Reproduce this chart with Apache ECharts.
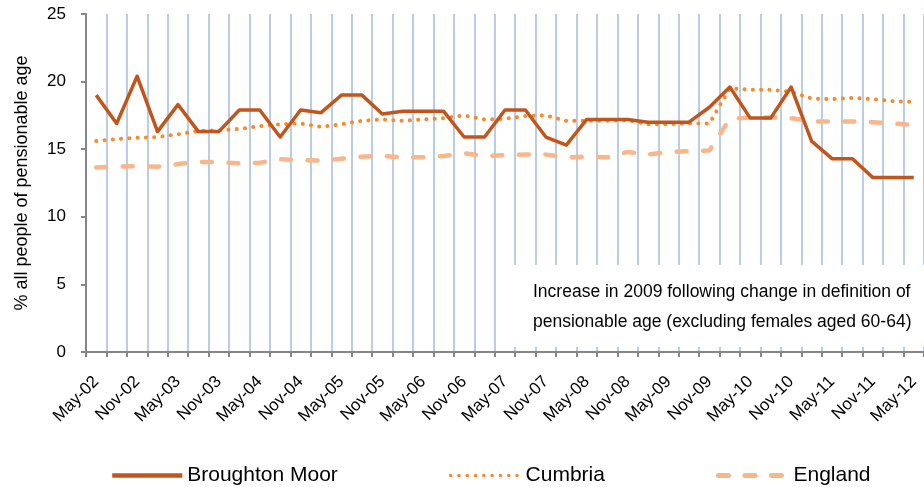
<!DOCTYPE html>
<html>
<head>
<meta charset="utf-8">
<script src="https://cdn.jsdelivr.net/npm/echarts@6/dist/echarts.min.js"></script>
<style>
html,body{margin:0;padding:0;background:#fff;}
#chart{width:924px;height:487px;}
</style>
</head>
<body>
<div id="chart"></div>
<script>
var categories = ['May-02','Aug-02','Nov-02','Feb-03','May-03','Aug-03','Nov-03','Feb-04','May-04','Aug-04',
  'Nov-04','Feb-05','May-05','Aug-05','Nov-05','Feb-06','May-06','Aug-06','Nov-06','Feb-07',
  'May-07','Aug-07','Nov-07','Feb-08','May-08','Aug-08','Nov-08','Feb-09','May-09','Aug-09',
  'Nov-09','Feb-10','May-10','Aug-10','Nov-10','Feb-11','May-11','Aug-11','Nov-11','Feb-12','May-12'];

var broughtonMoor = [19.0, 16.9, 20.4, 16.3, 18.3, 16.3, 16.3, 17.9, 17.9, 15.9,
  17.9, 17.7, 19.0, 19.0, 17.6, 17.8, 17.8, 17.8, 15.9, 15.9,
  17.9, 17.9, 15.9, 15.3, 17.2, 17.2, 17.2, 17.0, 17.0, 17.0,
  18.1, 19.6, 17.3, 17.3, 19.6, 15.6, 14.3, 14.3, 12.9, 12.9, 12.9];

var cumbria = [15.6, 15.75, 15.85, 15.9, 16.1, 16.35, 16.4, 16.5, 16.7, 16.85,
  16.9, 16.65, 16.85, 17.1, 17.2, 17.1, 17.2, 17.3, 17.5, 17.2,
  17.25, 17.45, 17.5, 17.1, 17.1, 17.1, 17.15, 16.85, 16.85, 16.9,
  16.9, 19.5, 19.4, 19.4, 19.25, 18.75, 18.7, 18.8, 18.7, 18.55, 18.5];

var england = [13.65, 13.7, 13.75, 13.7, 13.9, 14.05, 14.05, 13.95, 14.0, 14.25,
  14.2, 14.15, 14.3, 14.45, 14.5, 14.4, 14.4, 14.5, 14.7, 14.5,
  14.55, 14.6, 14.6, 14.4, 14.45, 14.4, 14.8, 14.6, 14.8, 14.85,
  14.9, 17.25, 17.35, 17.35, 17.3, 17.05, 17.05, 17.05, 17.0, 16.9, 16.8];

var seriesNames = ['Broughton Moor', 'Cumbria', 'England'];
var yAxisTitle = '% all people of pensionable age';
var noteLines = ['Increase in 2009 following change in definition of',
  'pensionable age (excluding females aged 60-64)'];

var FONT = '"Liberation Sans", Arial, sans-serif';
var COLORS = ['#c0561b', '#f68a2c', '#f9b68a'];
var chart = echarts.init(document.getElementById('chart'), null, {renderer: 'canvas'});

chart.setOption({
  animation: false,
  backgroundColor: '#ffffff',
  textStyle: {fontFamily: FONT},
  grid: {left: 86, top: 14, width: 840, height: 338, containLabel: false},
  legend: {
    left: 105, top: 460,
    itemWidth: 70, itemHeight: 14, itemGap: 111,
    textStyle: {fontFamily: FONT, fontSize: 21, color: '#000'},
    itemStyle: {opacity: 0},
    data: [
      {name: seriesNames[0], lineStyle: {width: 4.5}},
      {name: seriesNames[1], lineStyle: {width: 3.5}},
      {name: seriesNames[2], lineStyle: {width: 5}}
    ]
  },
  xAxis: {
    type: 'category',
    data: categories,
    boundaryGap: true,
    axisLine: {show: true, lineStyle: {color: '#868686', width: 2}},
    axisTick: {show: true, interval: 0, length: 5, lineStyle: {color: '#868686', width: 2}},
    splitLine: {show: true, interval: 0, lineStyle: {color: '#b9cde5', width: 2}},
    axisLabel: {interval: 1, rotate: 45, margin: 27, fontSize: 17, color: '#000', fontFamily: FONT}
  },
  yAxis: {
    type: 'value',
    min: 0, max: 25, interval: 5,
    name: yAxisTitle,
    nameLocation: 'middle',
    nameGap: 55,
    nameTextStyle: {fontSize: 18, color: '#000', fontFamily: FONT},
    axisLine: {show: true, lineStyle: {color: '#868686', width: 2}},
    axisTick: {show: true, length: 5, lineStyle: {color: '#868686', width: 2}},
    splitLine: {show: false},
    axisLabel: {fontSize: 17, color: '#000', margin: 20, fontFamily: FONT}
  },
  graphic: [
    {type: 'rect', z: 1, shape: {x: 497, y: 265, width: 430, height: 82}, style: {fill: '#ffffff'}, silent: true},
    {type: 'text', z: 3, x: 533, y: 292, style: {text: noteLines[0], font: '17.5px "Liberation Sans", Arial', fill: '#000', textVerticalAlign: 'middle'}},
    {type: 'text', z: 3, x: 533, y: 322, style: {text: noteLines[1], font: '17.5px "Liberation Sans", Arial', fill: '#000', textVerticalAlign: 'middle'}}
  ],
  series: [
    {name: seriesNames[0], type: 'line', data: broughtonMoor, symbol: 'none', z: 5,
      lineStyle: {color: COLORS[0], width: 3.5, join: 'round'}, itemStyle: {color: COLORS[0]}},
    {name: seriesNames[1], type: 'line', data: cumbria, symbol: 'none', z: 4,
      lineStyle: {color: COLORS[1], width: 4, type: [0.1, 8.2], cap: 'round'}, itemStyle: {color: COLORS[1]}},
    {name: seriesNames[2], type: 'line', data: england, symbol: 'none', z: 3,
      lineStyle: {color: COLORS[2], width: 4.5, type: [10, 16.5], cap: 'round'}, itemStyle: {color: COLORS[2]}}
  ]
});
</script>
</body>
</html>
